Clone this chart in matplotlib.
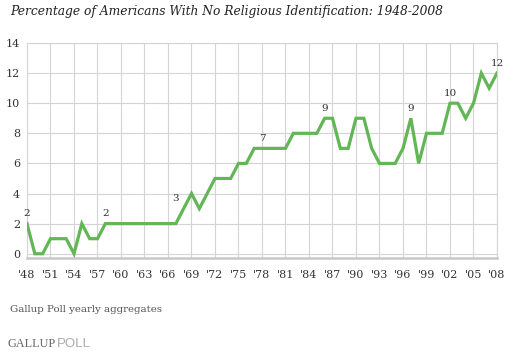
import matplotlib.pyplot as plt
from matplotlib.ticker import MultipleLocator

# Percentage with no religious identification, 1948-2008
years = list(range(1948, 2009))
values = [2, 0, 0, 1, 1, 1, 0, 2, 1, 1,      # 1948-1957
          2, 2, 2, 2, 2, 2, 2, 2, 2, 2,      # 1958-1967
          3, 4, 3, 4, 5, 5, 5, 6, 6, 7,      # 1968-1977
          7, 7, 7, 7, 8, 8, 8, 8, 9, 9,      # 1978-1987
          7, 7, 9, 9, 7, 6, 6, 6, 7, 9,      # 1988-1997
          6, 8, 8, 8, 10, 10, 9, 10, 12, 11,  # 1998-2007
          12]                                # 2008
label_years = [1948, 1958, 1968, 1978, 1986, 1997, 2002, 2008]
tick_years = list(range(1948, 2009, 3))
tick_labels = ["'" + str(y)[2:] for y in tick_years]

green = "#63b656"
grid_col = "#d4d4d4"
serif = ["DejaVu Serif"]

fig = plt.figure(figsize=(5.15, 3.53), dpi=100)
ax = fig.add_axes([27 / 515, 1 - 257.5 / 353, 470 / 515, (257.5 - 43) / 353])

ax.plot(years, values, color=green, linewidth=2.3, solid_joinstyle="miter", zorder=3)

for y in label_years:
    v = values[years.index(y)]
    dx = -6 if y == 1968 else 0
    ax.annotate(str(v), (y, v), xytext=(dx, 4), textcoords="offset points",
                ha="center", va="bottom", fontsize=7.5, family=serif, color="#333333")

ax.set_xlim(1948, 2008)
ax.set_ylim(-0.25, 14)
ax.set_xticks(tick_years)
ax.set_xticklabels(tick_labels)
ax.yaxis.set_major_locator(MultipleLocator(2))
ax.set_yticks(range(0, 15, 2))
ax.grid(True, color=grid_col, linewidth=0.8)
ax.set_axisbelow(True)
for s in ["top", "right", "left"]:
    ax.spines[s].set_color(grid_col)
    ax.spines[s].set_linewidth(0.8)
ax.spines["bottom"].set_color("#c8c8c8")
ax.spines["bottom"].set_linewidth(1.8)
ax.tick_params(axis="both", length=0, labelsize=8, colors="#333333")
ax.tick_params(axis="x", pad=9)
ax.tick_params(axis="y", pad=5)
for lab in ax.get_xticklabels() + ax.get_yticklabels():
    lab.set_family(serif)

fig.text(10 / 515, 1 - 15 / 353, "Percentage of Americans With No Religious Identification: 1948-2008",
         fontsize=8.85, style="italic", family=serif, color="#222222")
fig.text(10 / 515, 1 - 312 / 353, "Gallup Poll yearly aggregates",
         fontsize=7.4, family=serif, color="#555555")
fig.text(7 / 515, 1 - 347 / 353, "GALLUP", fontsize=8.8, family=["Liberation Serif"], color="#666666")
fig.text(57 / 515, 1 - 347 / 353, "POLL", fontsize=9.5, family=["Liberation Sans"], color="#aaaaaa")

fig.savefig("out.png", dpi=100, facecolor="white")
